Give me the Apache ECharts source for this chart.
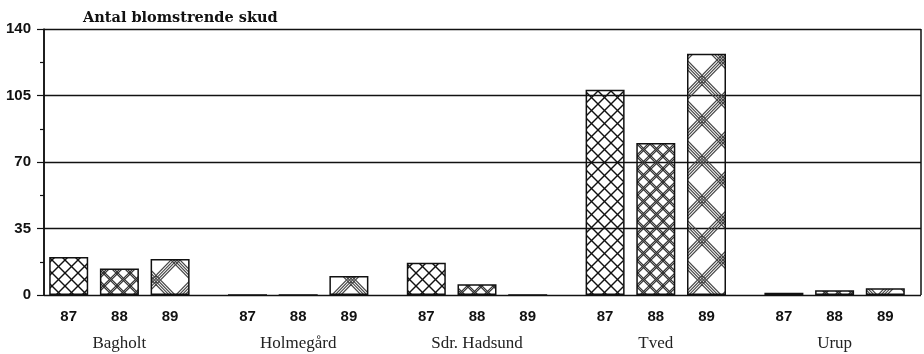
<!DOCTYPE html>
<html><head><meta charset="utf-8">
<script src="https://cdn.jsdelivr.net/npm/echarts@6/dist/echarts.min.js"></script>
<style>html,body{margin:0;padding:0;background:#fff}#c{width:924px;height:354px}</style>
</head><body><div id="c"></div>
<script>
const groups = ['Bagholt', 'Holmegård', 'Sdr. Hadsund', 'Tved', 'Urup'];
const years = ['87', '88', '89'];
const v87 = [20, 0, 17, 108, 1.2];
const v88 = [14, 0, 5.6, 80, 2.5];
const v89 = [19, 10, 0, 127, 3.5];
const yTicks = [0, 35, 70, 105, 140];
const title = 'Antal blomstrende skud';

function makePattern(w, h, offsets, color, lw) {
  const c = document.createElement('canvas');
  c.width = w; c.height = h;
  const ctx = c.getContext('2d');
  ctx.strokeStyle = color; ctx.lineWidth = lw;
  for (const o of offsets) {
    for (let k = -1; k <= 1; k++) {
      ctx.beginPath(); ctx.moveTo(k * w + o, 0); ctx.lineTo(k * w + o + w, h); ctx.stroke();
      ctx.beginPath(); ctx.moveTo(k * w + o + w, 0); ctx.lineTo(k * w + o, h); ctx.stroke();
    }
  }
  return { image: c, repeat: 'repeat' };
}
const patterns = [
  makePattern(13, 13, [0], '#111', 1.4),
  makePattern(13, 13, [-1.1, 1.1], '#333', 1.1),
  makePattern(39, 40, [-4.5, -1.5, 1.5, 4.5], '#444', 1.1)
];
const values = [v87, v88, v89];

const chart = echarts.init(document.getElementById('c'));
const numFont = { fontFamily: 'Liberation Sans', fontWeight: 'bold', fontSize: 15, color: '#111' };
chart.setOption({
  animation: false,
  backgroundColor: '#fff',
  title: { text: title, left: 78, top: 6, textStyle: { fontFamily: 'DejaVu Serif', fontWeight: 'bold', fontSize: 14.5, color: '#111' } },
  grid: [
    { left: 44, right: 3, top: 29, bottom: 59 },
    { left: 30, width: 901, top: 29, bottom: 59 }
  ],
  xAxis: [
    { gridIndex: 0, type: 'value', min: 0, max: 1, interval: 1,
      axisLine: { show: false }, axisTick: { show: false }, axisLabel: { show: false },
      splitLine: { show: true, lineStyle: { color: '#111', width: 1.5 } } },
    { gridIndex: 1, type: 'category', data: groups,
      axisLine: { show: false }, axisTick: { show: false },
      axisLabel: { fontFamily: 'Liberation Serif', fontSize: 17, color: '#222', margin: 40 } }
  ],
  yAxis: [
    { gridIndex: 0, type: 'value', min: yTicks[0], max: yTicks[yTicks.length - 1], interval: 35,
      axisLine: { show: true, onZero: false, lineStyle: { color: '#111', width: 1.5 } },
      axisTick: { show: true, length: 7, lineStyle: { color: '#111', width: 1.2 } },
      minorTick: { show: true, splitNumber: 2, length: 4, lineStyle: { color: '#111', width: 1.2 } },
      axisLabel: Object.assign({ margin: 13 }, numFont),
      splitLine: { show: true, lineStyle: { color: '#111', width: 1.3 } } },
    { gridIndex: 1, type: 'value', min: 0, max: 140, show: false }
  ],
  series: years.map((y, i) => ({
    name: y, type: 'bar', xAxisIndex: 1, yAxisIndex: 1,
    data: values[i], barWidth: 39, barGap: '30%',
    itemStyle: { color: patterns[i], borderColor: '#111', borderWidth: 1.5 },
    label: Object.assign({ show: true, position: 'bottom', distance: 14, formatter: y }, numFont)
  }))
});
</script></body></html>
